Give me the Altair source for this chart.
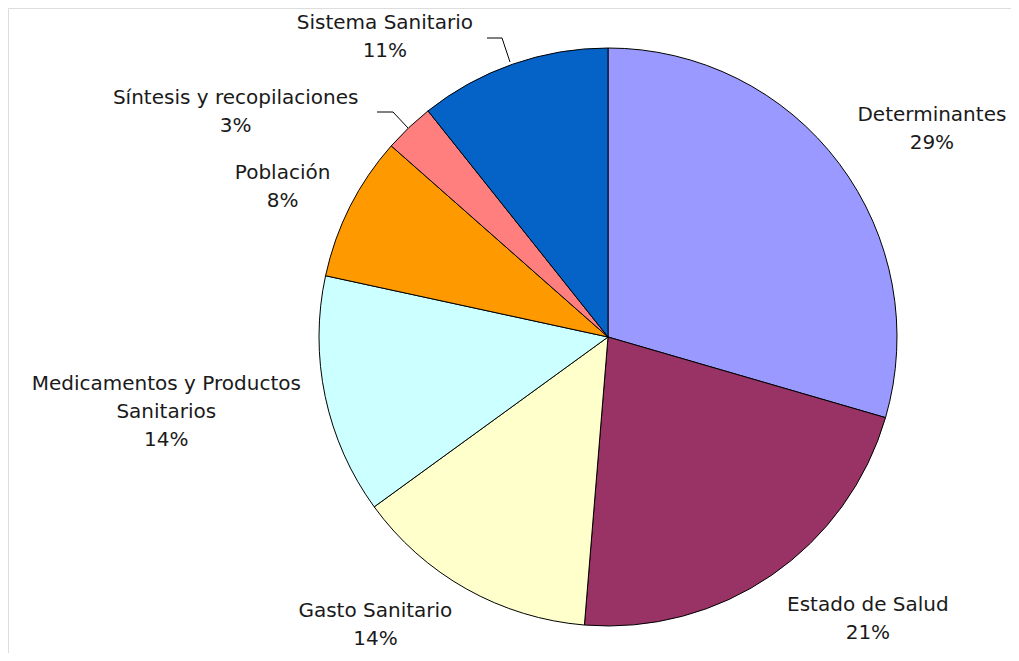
import math
import altair as alt
import pandas as pd

# ---- data ----
categories = [
    "Determinantes",
    "Estado de Salud",
    "Gasto Sanitario",
    "Medicamentos y Productos Sanitarios",
    "Población",
    "Síntesis y recopilaciones",
    "Sistema Sanitario",
]
values = [29.5, 21.8, 13.7, 13.4, 8.1, 2.8, 10.7]
pct_labels = ["29%", "21%", "14%", "14%", "8%", "3%", "11%"]
name_lines = [
    "Determinantes",
    "Estado de Salud",
    "Gasto Sanitario",
    "Medicamentos y Productos\nSanitarios",
    "Población",
    "Síntesis y recopilaciones",
    "Sistema Sanitario",
]
colors = ["#9999FF", "#993366", "#FFFFCC", "#CCFFFF", "#FF9900", "#FF7F7F", "#0563C8"]

# ---- styling / layout ----
W, H = 1003, 645
CX, CY = 600, 329
R = 289
LABEL_R = 340
label_offsets = {
    "Determinantes": (52, -18),
    "Estado de Salud": (67, -12),
    "Gasto Sanitario": (-66, -22),
    "Medicamentos y Productos Sanitarios": (-109, -23),
    "Población": (-22, -11),
    "Síntesis y recopilaciones": (-138, 7),
    "Sistema Sanitario": (-111, 7),
}
leaders = pd.DataFrame({
    "x": [479, 494, 369, 385],
    "y": [30, 30, 104, 104],
    "x2": [494, 502, 385, 400],
    "y2": [30, 54, 104, 120],
})

total = sum(values)
df = pd.DataFrame({
    "cat": categories,
    "value": values,
    "idx": list(range(len(categories))),
    "label": [n + "\n" + p for n, p in zip(name_lines, pct_labels)],
})
df["mid"] = df["value"].cumsum() - df["value"] / 2

color_scale = alt.Scale(domain=categories, range=colors)

pie = alt.Chart(df).mark_arc(
    radius=R, stroke="#000000", strokeWidth=1
).encode(
    theta=alt.Theta("value:Q", stack=True),
    order=alt.Order("idx:Q"),
    color=alt.Color("cat:N", scale=color_scale, legend=None),
    x=alt.value(CX),
    y=alt.value(CY),
)

text_layers = []
for c in categories:
    dx, dy = label_offsets[c]
    t = alt.Chart(df).transform_filter(
        alt.datum.cat == c
    ).mark_text(
        radius=LABEL_R, dx=dx, dy=dy, fontSize=20,
        font="DejaVu Sans", color="#1a1a1a", align="center",
        baseline="middle", lineBreak="\n", lineHeight=28,
    ).encode(
        theta=alt.Theta("mid:Q", stack=None,
                        scale=alt.Scale(domain=[0, total], range=[0, 2 * math.pi])),
        text="label:N",
        x=alt.value(CX),
        y=alt.value(CY),
    )
    text_layers.append(t)

lead = alt.Chart(leaders).mark_rule(color="#000000", strokeWidth=1).encode(
    x=alt.X("x:Q", scale=None),
    y=alt.Y("y:Q", scale=None),
    x2="x2:Q",
    y2="y2:Q",
)

chart = alt.layer(pie, lead, *text_layers).resolve_scale(theta="independent").properties(
    width=W, height=H, padding=0,
    autosize=alt.AutoSizeParams(type="none"),
).configure_view(strokeWidth=0, stroke="transparent").configure(background="#ffffff")

chart.save("out.html", embed_options={"renderer": "svg", "actions": False})
